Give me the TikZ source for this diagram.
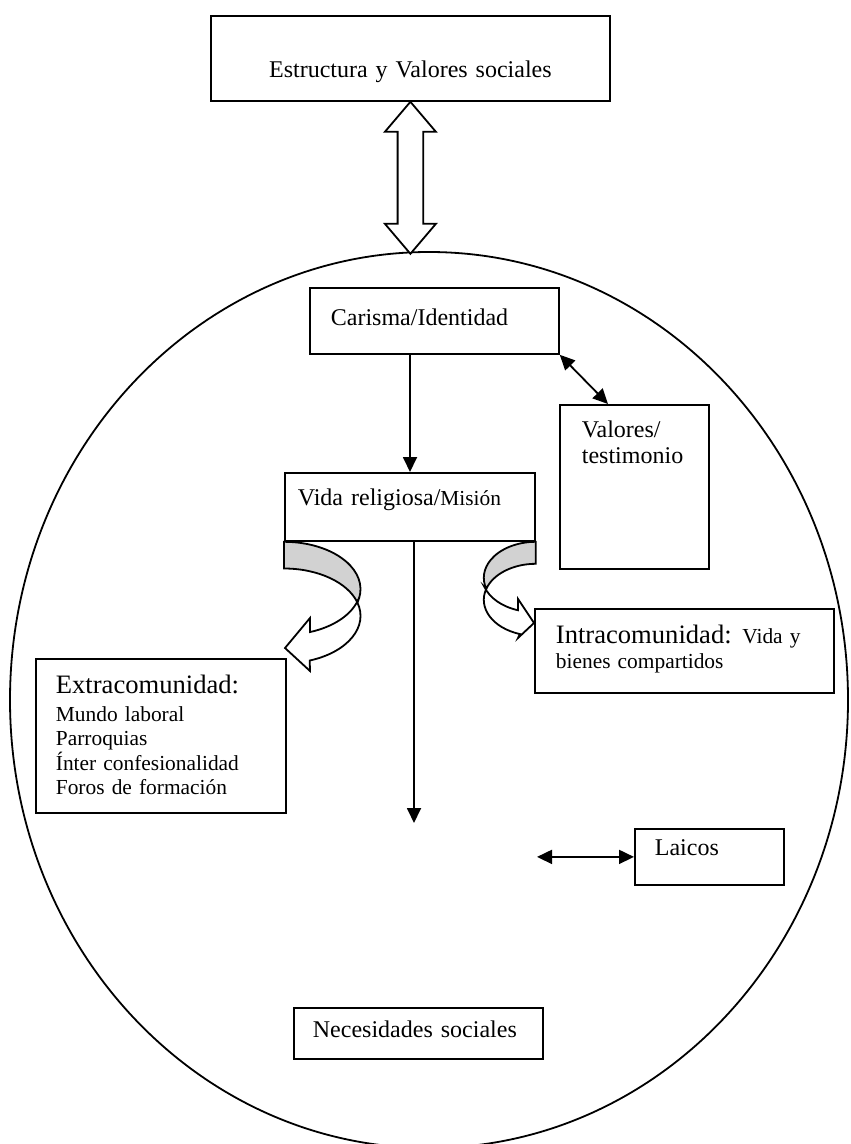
\documentclass[tikz,border=0pt]{standalone}
\usepackage{fontspec}
\setmainfont{Liberation Serif}
\usepackage{tikz}
\usetikzlibrary{positioning,arrows.meta,shapes.geometric}

\begin{document}
\begin{tikzpicture}[
  x=0.5pt, y=0.5pt,
  box/.style={draw, rectangle, anchor=north west, inner ysep=0pt,
    align=left, line width=0.9pt, font=\fontsize{12}{13}\selectfont},
  small/.style={font=\fontsize{10.7}{12.3}\selectfont},
  arrow/.style={line width=0.9pt, -{Triangle[length=7.5pt,width=7pt]}},
  twoway/.style={line width=0.9pt,
    {Triangle[length=7.5pt,width=7pt]}-{Triangle[length=7.5pt,width=7pt]}},
  hollow/.style={draw, fill=white, line width=0.9pt},
  shade/.style={draw, fill=gray!35, line width=0.9pt}
]
  \useasboundingbox (0,0) rectangle (850,-1144);

  % la comunidad
  \node[draw, ellipse, minimum width=419pt, minimum height=448pt,
    inner sep=0pt, line width=0.9pt] (mundo) at (429,-700) {};

  \node[box, text width=199.5pt, inner xsep=0pt, align=center,
    text height=31pt, text depth=11.5pt] (soc) at (210,-15)
    {Estructura y Valores sociales};
  \node[box, text width=103.5pt, inner xsep=10.5pt,
    text height=19pt, text depth=14pt] (car) at (309,-287)
    {Carisma/Identidad};
  \node[box, text width=52.5pt, inner xsep=11pt,
    text height=16.5pt, text depth=65.5pt] (val) at (559,-404)
    {Valores/\\testimonio};
  \node[box, text width=112pt, inner xsep=6.5pt,
    text height=16.5pt, text depth=17.5pt] (vida) at (284,-472)
    {Vida religiosa/{\fontsize{10.7}{12}\selectfont Misión}};
  \node[box, small, text width=128.5pt, inner xsep=10.5pt,
    text height=17.5pt, text depth=24.5pt] (intra) at (534,-608)
    {{\fontsize{13.3}{14}\selectfont Intracomunidad:} Vida y\\bienes compartidos};
  \node[box, small, text width=105pt, inner xsep=10pt,
    text height=17.5pt, text depth=59.5pt] (extra) at (35,-658)
    {{\fontsize{13.3}{14}\selectfont Extracomunidad:}\\[1.3pt]
     Mundo laboral\\Parroquias\\Ínter confesionalidad\\Foros de formación};
  \node[box, text width=54.5pt, inner xsep=10pt,
    text height=13.5pt, text depth=14.5pt] (lai) at (634,-828) {Laicos};
  \node[box, text width=105.5pt, inner xsep=9.5pt,
    text height=15pt, text depth=10.5pt] (nec) at (293,-1007)
    {Necesidades sociales};

  % flecha hueca hacia la estructura social
  \draw[hollow] (soc.south) -- ++(-25.5,-30) -- ++(12.7,0) -- ++(0,-92)
    -- ++(-12.7,0) -- ++(25.5,-30) -- ++(25.5,30) -- ++(-12.7,0)
    -- ++(0,92) -- ++(12.7,0) -- cycle;

  % conectores
  \coordinate (stem) at (410,0);
  \coordinate (sink) at (414,-823);
  \coordinate (laiend) at (537,0);
  \draw[arrow] (car.south -| stem) -- (vida.north -| stem);
  \draw[twoway] (car.south east) -- ([xshift=24.5pt]val.north west);
  \draw[arrow] (vida.south -| sink) -- (sink);
  \draw[twoway] (lai.west -| laiend) -- (lai.west);

  % flecha curva izquierda
  \draw[shade] (vida.south west)
    arc[start angle=90, end angle=-16.36, x radius=76.5, y radius=47.4]
    coordinate (lp)
    arc[start angle=16.36, end angle=90, x radius=76.5, y radius=47.4] -- cycle;
  \draw[hollow] (lp)
    arc[start angle=16.36, end angle=-70.37, x radius=76.5, y radius=47.4]
    -- (310,-671) -- (285,-648) -- (310,-618) -- (310,-632.05)
    arc[start angle=-70.37, end angle=-16.36, x radius=76.5, y radius=47.4]
    -- cycle;

  % flecha curva derecha
  \draw[shade] (vida.south east)
    arc[start angle=90, end angle=197.79, x radius=52, y radius=36]
    coordinate (rp)
    arc[start angle=162.21, end angle=90, x radius=52, y radius=36] -- cycle;
  \draw[hollow] (rp)
    arc[start angle=162.21, end angle=252.08, x radius=52, y radius=36]
    -- (518,-638) -- (534,-623) -- (518,-599) -- (518,-610.25)
    arc[start angle=252.08, end angle=197.79, x radius=52, y radius=36]
    -- cycle;
\end{tikzpicture}
\end{document}
